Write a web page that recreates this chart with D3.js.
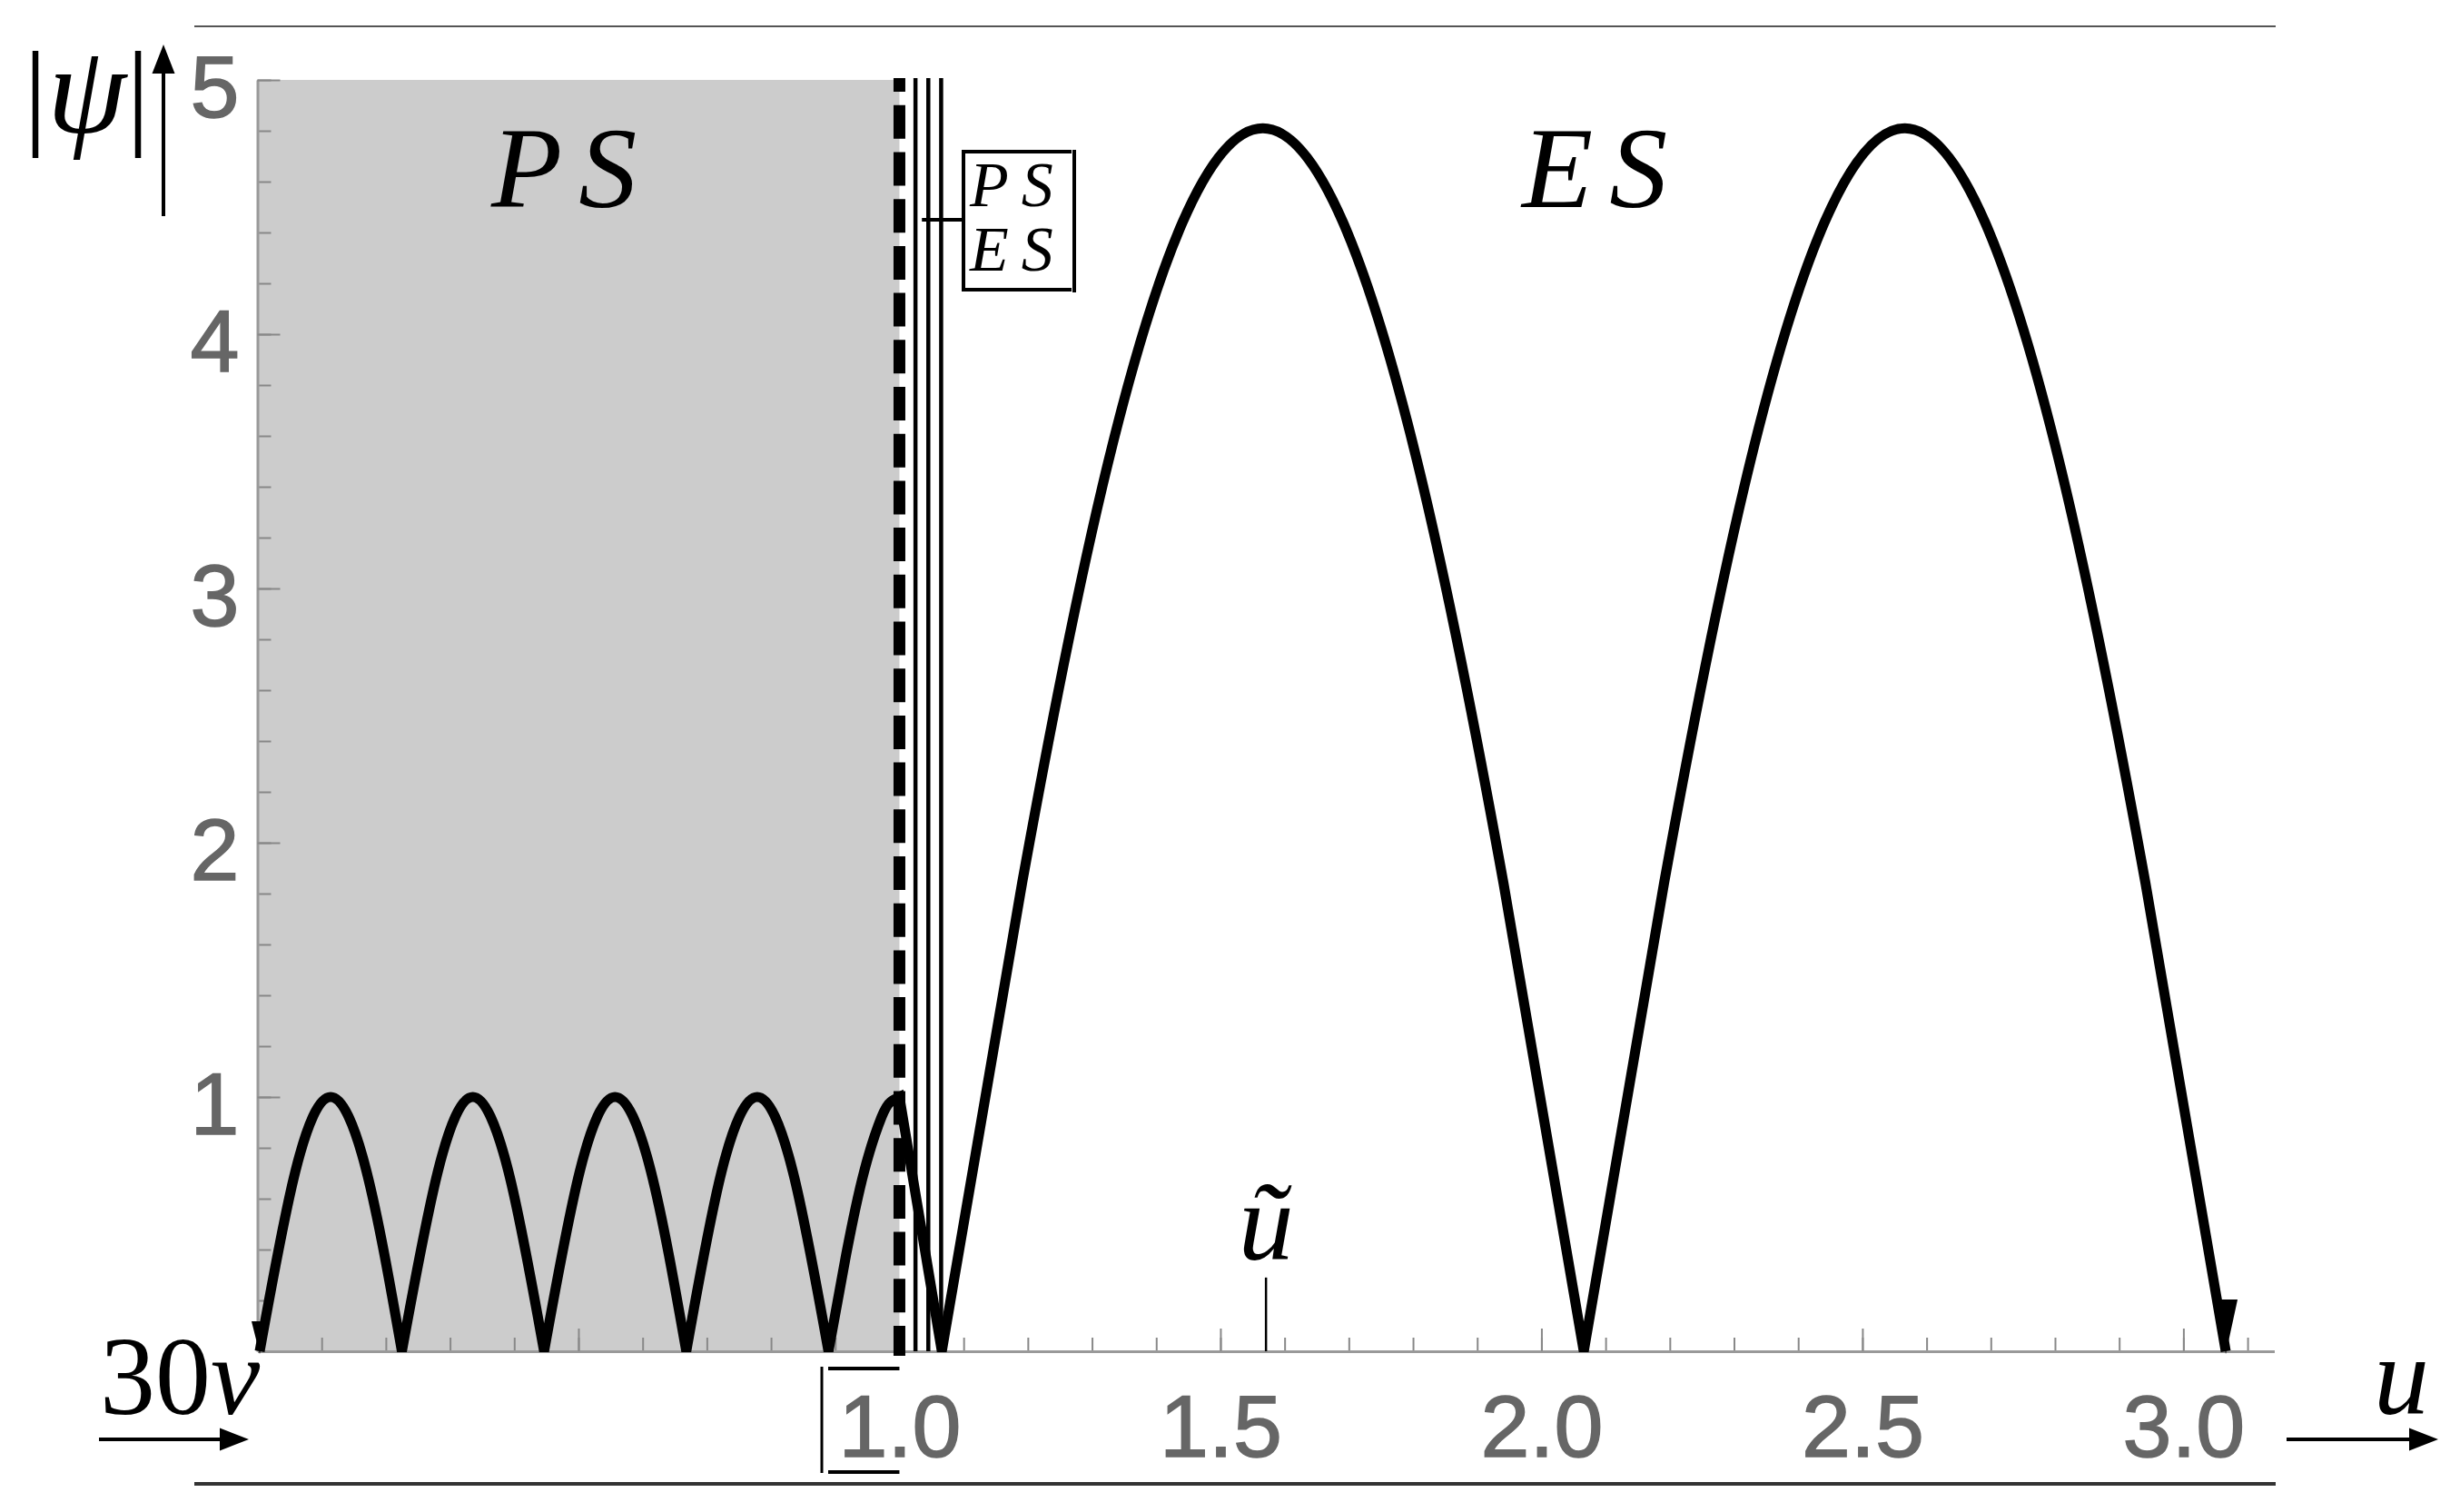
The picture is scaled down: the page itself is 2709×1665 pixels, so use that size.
<!DOCTYPE html>
<html>
<head>
<meta charset="utf-8">
<script src="https://cdn.jsdelivr.net/npm/d3@7"></script>
<style>
  body { margin: 0; background: #fff; }
  .math { font-family: "Liberation Serif", "DejaVu Serif", serif; font-style: italic; fill: #000; }
  .up { font-style: normal; }
</style>
</head>
<body>
<svg id="chart"></svg>
<script>
// |psi| against u : PS region (grey) and ES region
const uMax = 3.1416;
const psiMax = 5;
const uBoundary = 1.0;                       // PS / ES border (dashed)
const transitionLines = [1.025, 1.045, 1.065];
const uTilde = 1.571;

const xTickValues = [0, 0.5, 1.0, 1.5, 2.0, 2.5, 3.0];
const xTickLabels = ['', '', '1.0', '1.5', '2.0', '2.5', '3.0'];
const yTickValues = [1, 2, 3, 4, 5];
const yTickLabels = ['1', '2', '3', '4', '5'];

// curve, split at the cusps
const psSegments = [
  [[0.0035, 0], [0.059, 0.707], [0.114, 1], [0.170, 0.707], [0.225, 0]],
  [[0.225, 0], [0.281, 0.707], [0.3355, 1], [0.391, 0.707], [0.4465, 0]],
  [[0.4465, 0], [0.502, 0.707], [0.557, 1], [0.613, 0.707], [0.668, 0]],
  [[0.668, 0], [0.723, 0.707], [0.7785, 1], [0.834, 0.707], [0.8895, 0]],
  [[0.8895, 0], [0.917, 0.38], [0.945, 0.707], [0.972, 0.92], [0.986, 0.98], [1.0, 1]]
];
const esSegments = [
  [[1.0, 0.99], [1.033, 0.5], [1.066, 0]],
  [[1.066, 0], [1.191, 1.84], [1.316, 3.40], [1.441, 4.44], [1.566, 4.81], [1.691, 4.44], [1.816, 3.40], [1.941, 1.84], [2.066, 0]],
  [[2.066, 0], [2.191, 1.84], [2.316, 3.40], [2.441, 4.44], [2.566, 4.81], [2.691, 4.44], [2.816, 3.40], [2.941, 1.84], [3.066, 0]]
];

const width = 2709, height = 1665;
const svg = d3.select('#chart')
    .attr('width', width)
    .attr('height', height);

const xScale = d3.scaleLinear()
    .domain([0, uMax])
    .range([283.5, 2504.5]);
const yScale = d3.scaleLinear()
    .domain([0, psiMax])
    .range([1488, 88]);

// frame lines above and below
svg.append('line')
    .attr('x1', 214).attr('x2', 2506).attr('y1', 29).attr('y2', 29)
    .attr('stroke', '#555').attr('stroke-width', 2);
svg.append('line')
    .attr('x1', 214).attr('x2', 2506).attr('y1', 1634).attr('y2', 1634)
    .attr('stroke', '#333').attr('stroke-width', 4);

// PS region
svg.append('rect')
    .attr('x', xScale(0))
    .attr('y', yScale(psiMax))
    .attr('width', xScale(uBoundary) - xScale(0))
    .attr('height', yScale(0) - yScale(psiMax))
    .attr('fill', '#cccccc');

//axes
const xMinor = svg.append('g')
    .attr('transform', `translate(0, ${yScale(0)})`)
    .call(d3.axisBottom(xScale).tickValues(d3.range(0.1, 3.15, 0.1)).tickSize(-15).tickSizeOuter(0).tickFormat(''));
xMinor.select('.domain').remove();

const xMajor = svg.append('g')
    .attr('transform', `translate(0, ${yScale(0)})`)
    .call(d3.axisBottom(xScale).tickValues(xTickValues).tickSize(-25).tickSizeOuter(0).tickPadding(47)
        .tickFormat((d, i) => xTickLabels[i]));

const yMinor = svg.append('g')
    .attr('transform', `translate(${xScale(0)}, 0)`)
    .call(d3.axisLeft(yScale).tickValues(d3.range(0.2, 5.01, 0.2)).tickSize(-15).tickSizeOuter(0).tickFormat(''));
yMinor.select('.domain').remove();

const yMajor = svg.append('g')
    .attr('transform', `translate(${xScale(0)}, 0)`)
    .call(d3.axisLeft(yScale).tickValues(yTickValues).tickSize(-25).tickSizeOuter(0).tickPadding(20)
        .tickFormat((d, i) => yTickLabels[i]));

svg.selectAll('.domain').attr('stroke', '#999').attr('stroke-width', 3);
svg.selectAll('.tick line').attr('stroke', '#888').attr('stroke-width', 2);
svg.selectAll('.tick text')
    .attr('fill', '#666')
    .attr('stroke', '#666')
    .attr('stroke-width', 1.5)
    .style('font-family', '"Liberation Sans", Arial, sans-serif')
    .style('font-size', '97px');
yMajor.selectAll('.tick text').attr('dy', '0.42em');

// u tilde marker
svg.append('line')
    .attr('x1', xScale(uTilde)).attr('x2', xScale(uTilde))
    .attr('y1', yScale(0)).attr('y2', yScale(0.29))
    .attr('stroke', '#000').attr('stroke-width', 2.5);
svg.append('text')
    .attr('class', 'math')
    .attr('x', xScale(uTilde)).attr('y', 1387)
    .attr('text-anchor', 'middle')
    .style('font-size', '122px')
    .text('ũ');

// thin lines of the transition zone
svg.selectAll('.trans')
    .data(transitionLines)
    .enter()
    .append('line')
    .attr('class', 'trans')
    .attr('x1', d => xScale(d)).attr('x2', d => xScale(d))
    .attr('y1', yScale(psiMax) - 2).attr('y2', yScale(0))
    .attr('stroke', '#000').attr('stroke-width', 4.5);

// curve
const line = d3.line()
    .x(d => xScale(d[0]))
    .y(d => yScale(d[1]))
    .curve(d3.curveNatural);
const allSegments = psSegments.concat(esSegments);
const pathStr = allSegments.map((s, i) => i ? line(s).replace(/^M[^C]*/, '') : line(s)).join('');
svg.append('path')
    .attr('d', pathStr)
    .attr('fill', 'none')
    .attr('stroke', '#000')
    .attr('stroke-width', 11);

// arrow tips at both ends of the curve
const first = psSegments[0][0];
const lastSeg = esSegments[esSegments.length - 1];
const last = lastSeg[lastSeg.length - 1];
svg.selectAll('.tip')
    .data([{p: first, len: 36, hw: 9}, {p: last, len: 60, hw: 13}])
    .enter()
    .append('path')
    .attr('class', 'tip')
    .attr('d', d => {
        const cx = xScale(d.p[0]), cy = yScale(d.p[1]) + 3;
        return `M${cx},${cy}L${cx - d.hw},${cy - d.len}L${cx + d.hw},${cy - d.len}Z`;
    })
    .attr('fill', '#000');

// PS/ES border
svg.append('line')
    .attr('x1', xScale(uBoundary)).attr('x2', xScale(uBoundary))
    .attr('y1', yScale(0) + 5).attr('y2', yScale(psiMax) - 2)
    .attr('stroke', '#000').attr('stroke-width', 13)
    .attr('stroke-dasharray', '37 14.7')
    .attr('stroke-dashoffset', 4);

// PS/ES box callout
const boxY = yScale(4.45);
svg.append('line')
    .attr('x1', xScale(1.035)).attr('x2', 1061).attr('y1', boxY).attr('y2', boxY)
    .attr('stroke', '#000').attr('stroke-width', 4);
const box = svg.append('g').attr('stroke', '#000').attr('stroke-width', 4);
box.append('line').attr('x1', 1061).attr('x2', 1061).attr('y1', 165).attr('y2', 321);
box.append('line').attr('x1', 1061).attr('x2', 1180).attr('y1', 167).attr('y2', 167);
box.append('line').attr('x1', 1061).attr('x2', 1180).attr('y1', 319).attr('y2', 319);
box.append('line').attr('x1', 1183).attr('x2', 1183).attr('y1', 165).attr('y2', 322);
svg.append('text').attr('class', 'math').attr('x', 1068).attr('y', 227)
    .style('font-size', '70px').style('letter-spacing', '14px').text('PS');
svg.append('text').attr('class', 'math').attr('x', 1068).attr('y', 298)
    .style('font-size', '70px').style('letter-spacing', '14px').text('ES');

// bracket by the 1.0 label
const br = svg.append('g').attr('stroke', '#000');
br.append('line').attr('x1', 905).attr('x2', 905).attr('y1', 1505).attr('y2', 1622).attr('stroke-width', 3);
br.append('line').attr('x1', 912).attr('x2', xScale(uBoundary)).attr('y1', 1507).attr('y2', 1507).attr('stroke-width', 4);
br.append('line').attr('x1', 912).attr('x2', xScale(uBoundary)).attr('y1', 1621).attr('y2', 1621).attr('stroke-width', 4);

// region labels
svg.append('text').attr('class', 'math').attr('x', 541).attr('y', 228)
    .style('font-size', '128px').style('letter-spacing', '18px').text('PS');
svg.append('text').attr('class', 'math').attr('x', 1676).attr('y', 228)
    .style('font-size', '128px').style('letter-spacing', '18px').text('ES');

// axis names with arrows
function arrow(x1, y1, x2, y2) {
    const a = Math.atan2(y2 - y1, x2 - x1), L = 32, w = 12.5;
    const bx = x2 - L * Math.cos(a), by = y2 - L * Math.sin(a);
    svg.append('line').attr('x1', x1).attr('y1', y1).attr('x2', bx).attr('y2', by)
        .attr('stroke', '#000').attr('stroke-width', 4);
    svg.append('path')
        .attr('d', `M${x2},${y2}L${bx - w * Math.sin(a)},${by + w * Math.cos(a)}L${bx + w * Math.sin(a)},${by - w * Math.cos(a)}Z`)
        .attr('fill', '#000');
}
arrow(180, 238, 180, 49);
arrow(109, 1585, 274, 1585);
arrow(2518, 1585, 2685, 1585);

const psiLabel = svg.append('text').attr('class', 'math').attr('x', 26).attr('y', 146).style('font-size', '130px');
psiLabel.append('tspan').attr('class', 'up').text('|');
psiLabel.append('tspan').style('font-size', '140px').text('ψ');
psiLabel.append('tspan').attr('class', 'up').text('|');

const vLabel = svg.append('text').attr('class', 'math').attr('x', 110).attr('y', 1557).style('font-size', '122px');
vLabel.append('tspan').attr('class', 'up').text('30');
vLabel.append('tspan').text('v');

svg.append('text').attr('class', 'math').attr('x', 2614).attr('y', 1557)
    .style('font-size', '122px').text('u');
</script>
</body>
</html>
